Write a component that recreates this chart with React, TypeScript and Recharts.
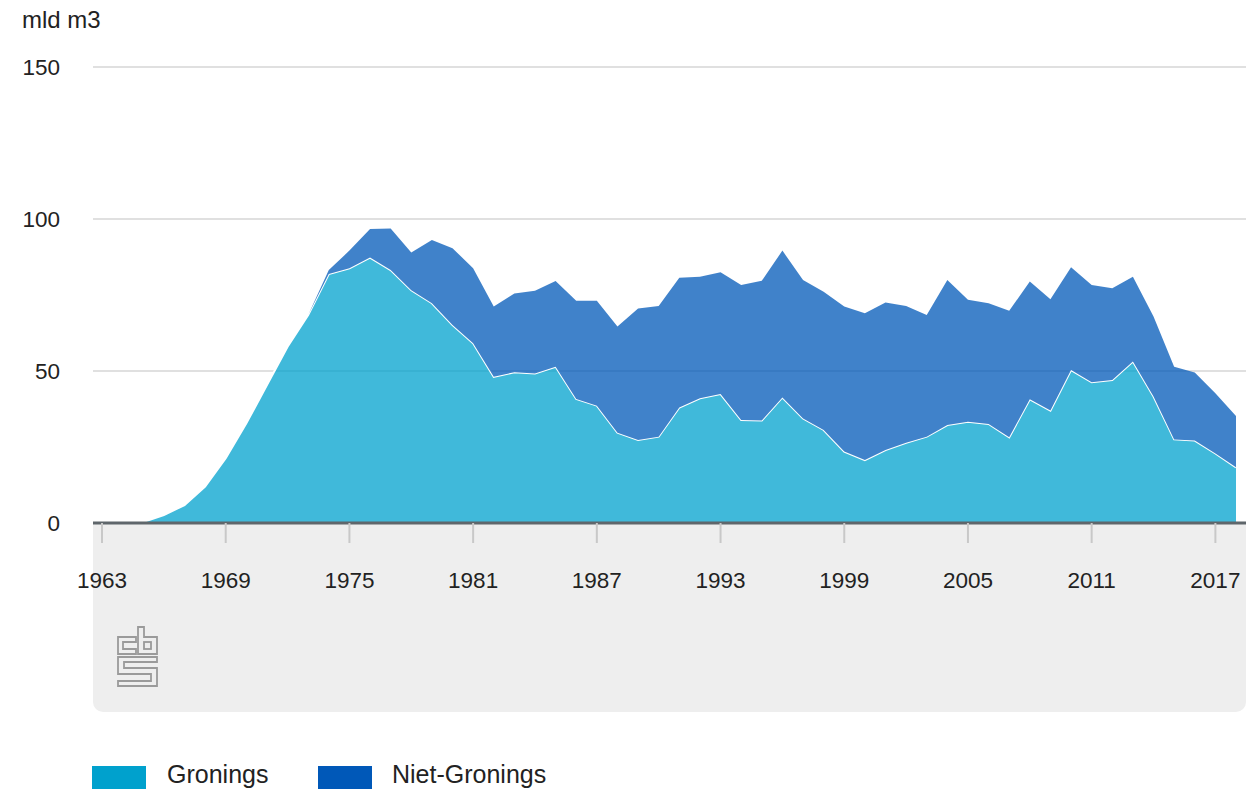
import React from 'react';
import { AreaChart, Area, XAxis, YAxis, CartesianGrid } from 'recharts';

const years = [
  1963, 1964, 1965, 1966, 1967, 1968, 1969, 1970, 1971, 1972, 1973, 1974, 1975, 1976,
  1977, 1978, 1979, 1980, 1981, 1982, 1983, 1984, 1985, 1986, 1987, 1988, 1989, 1990,
  1991, 1992, 1993, 1994, 1995, 1996, 1997, 1998, 1999, 2000, 2001, 2002, 2003, 2004,
  2005, 2006, 2007, 2008, 2009, 2010, 2011, 2012, 2013, 2014, 2015, 2016, 2017, 2018,
];

const gronings = [
  0, 0, 0.3, 2.6, 5.9, 12, 21.3, 32.8, 45.4, 58, 68.4, 81.9, 83.8, 87.3,
  83.2, 76.6, 72.3, 65.1, 59.1, 48.1, 49.6, 49.2, 51.4, 40.8, 38.6, 29.7, 27.3, 28.4,
  38, 41, 42.4, 33.9, 33.7, 41.3, 34.4, 30.6, 23.5, 20.7, 24, 26.4, 28.4, 32.2,
  33.3, 32.6, 28.2, 40.7, 37, 50.3, 46.3, 47, 53.1, 41.6, 27.5, 27.1, 22.9, 18.3,
];

const nietGronings = [
  0, 0, 0, 0, 0, 0, 0, 0, 0, 0, 0, 1.3, 5.8, 9.4,
  13.7, 12.4, 20.8, 25.3, 24.7, 23.1, 25.9, 27.2, 28.2, 32.3, 34.5, 34.9, 43.3, 43,
  42.7, 40, 40.1, 44.4, 46, 48.3, 45.5, 45.5, 47.7, 48.3, 48.5, 45, 40, 47.7,
  40.1, 39.7, 41.6, 38.7, 36.6, 33.8, 32, 30.2, 27.9, 26.3, 23.9, 22.4, 19.8, 16.9,
];

const xTicks = [1963, 1969, 1975, 1981, 1987, 1993, 1999, 2005, 2011, 2017];
const yTicks = [0, 50, 100, 150];

const series = [
  { key: 'gronings', name: 'Gronings', color: '#00a1cd' },
  { key: 'nietGronings', name: 'Niet-Gronings', color: '#0058b8' },
];

const data = years.map((year, i) => ({
  year,
  gronings: gronings[i],
  nietGronings: nietGronings[i],
}));

const FONT = '"Liberation Sans", Arial, Helvetica, sans-serif';

const XTick = ({ x, y, payload }: any) => (
  <text x={x} y={y + 37} textAnchor="middle" fill="#222" fontSize={22.5}>
    {payload.value}
  </text>
);

const CbsLogo = () => (
  <svg width={43} height={64} style={{ position: 'absolute', left: 116, top: 625 }}>
    <g transform="translate(2,2)" fill="none" stroke="#9a9a9a" strokeWidth={1.8}>
      <polygon points="0,10 18,10 18,15 5,15 5,22 18,22 18,27 0,27" />
      <polygon points="20,0 26,0 26,10 39,10 39,27 20,27" />
      <rect x={26} y={15} width={7} height={7} />
      <polygon points="0,30 39,30 39,35 6,35 6,41 39,41 39,59 0,59 0,54 33,54 33,47 0,47" />
    </g>
  </svg>
);

export default function App() {
  return (
    <div
      style={{
        position: 'absolute',
        left: 0,
        top: 0,
        width: 1246,
        height: 789,
        overflow: 'hidden',
        background: '#fff',
        fontFamily: FONT,
      }}
    >
      <div
        style={{
          position: 'absolute',
          left: 93,
          top: 523,
          width: 1153,
          height: 189,
          background: '#eeeeee',
          borderRadius: '0 0 10px 10px',
        }}
      />
      <CbsLogo />
      <div
        style={{
          position: 'absolute',
          left: 22,
          top: 5,
          fontSize: 24,
          lineHeight: '30px',
          color: '#222',
        }}
      >
        mld m3
      </div>
      <div style={{ position: 'absolute', left: 0, top: 0 }}>
        <AreaChart
          width={1246}
          height={789}
          data={data}
          margin={{ top: 67, right: 0, bottom: 0, left: 0 }}
        >
          <CartesianGrid vertical={false} stroke="#d6d6d6" strokeWidth={1.5} />
          <XAxis
            dataKey="year"
            type="number"
            domain={[1963, 2018]}
            ticks={xTicks}
            interval={0}
            padding={{ left: 9, right: 10 }}
            height={266}
            axisLine={{ stroke: '#5f666b', strokeWidth: 3 }}
            tickLine={{ stroke: '#c8c8c8', strokeWidth: 2 }}
            tickSize={20}
            tickMargin={8}
            tick={<XTick />}
          />
          <YAxis
            domain={[0, 150]}
            ticks={yTicks}
            width={93}
            axisLine={false}
            tickLine={false}
            tickSize={0}
            tickMargin={33}
            tick={{ fill: '#222', fontSize: 22.5 }}
          />
          <Area
            type="linear"
            dataKey="gronings"
            name="Gronings"
            stackId="gas"
            fill="#00a1cd"
            fillOpacity={0.75}
            stroke="#ffffff"
            strokeWidth={2}
            isAnimationActive={false}
          />
          <Area
            type="linear"
            dataKey="nietGronings"
            name="Niet-Gronings"
            stackId="gas"
            fill="#0058b8"
            fillOpacity={0.75}
            stroke="none"
            isAnimationActive={false}
          />
        </AreaChart>
      </div>
      {series.map((s, i) => (
        <React.Fragment key={s.key}>
          <div
            style={{
              position: 'absolute',
              left: i === 0 ? 92 : 318,
              top: 766,
              width: 54,
              height: 24,
              background: s.color,
            }}
          />
          <div
            style={{
              position: 'absolute',
              left: i === 0 ? 167 : 392,
              top: 759,
              fontSize: 25,
              lineHeight: '30px',
              color: '#222',
              whiteSpace: 'nowrap',
            }}
          >
            {s.name}
          </div>
        </React.Fragment>
      ))}
    </div>
  );
}
